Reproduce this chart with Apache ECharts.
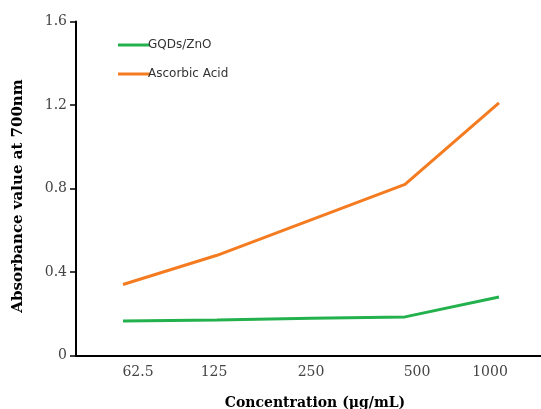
<!DOCTYPE html>
<html>
<head>
<meta charset="utf-8">
<script src="https://cdn.jsdelivr.net/npm/echarts@6/dist/echarts.min.js"></script>
<style>html,body{margin:0;padding:0;background:#fff}#c{width:541px;height:409px}</style>
</head>
<body>
<div id="c"></div>
<script>
const categories = ['62.5', '125', '250', '500', '1000'];
const gqdsZnO = [0.165, 0.17, 0.178, 0.185, 0.28];
const ascorbicAcid = [0.34, 0.48, 0.65, 0.82, 1.21];
const yTicks = [0, 0.4, 0.8, 1.2, 1.6];

// horizontal nudge of each category label (px), as in the source figure
const labelShift = {'62.5': 15, '125': -3, '250': 0, '500': 12, '1000': -9};

const rich = {};
categories.forEach((c, i) => {
  const s = labelShift[c];
  rich['l' + i] = {
    fontFamily: 'DejaVu Serif', fontSize: 14, color: '#444',
    padding: s >= 0 ? [0, 0, 0, 2 * s] : [0, -2 * s, 0, 0]
  };
});

const chart = echarts.init(document.getElementById('c'));
chart.setOption({
  animation: false,
  backgroundColor: '#fff',
  grid: {left: 76, top: 21.5, bottom: 53.5, width: 470, outerBoundsMode: 'none'},
  legend: {
    left: 113, top: 34, orient: 'vertical', itemWidth: 32, itemHeight: 3, itemGap: 17,
    icon: 'rect',
    textStyle: {fontFamily: 'DejaVu Sans', fontSize: 12, color: '#333', padding: [0, 0, 0, -7]},
    data: [
      {name: 'GQDs/ZnO', itemStyle: {color: '#22b14c'}},
      {name: 'Ascorbic Acid', itemStyle: {color: '#f47b20'}}
    ]
  },
  xAxis: {
    type: 'category', data: categories, boundaryGap: true,
    axisLine: {lineStyle: {color: '#000', width: 2}},
    axisTick: {show: false},
    axisLabel: {
      margin: 10,
      formatter: (v, i) => '{l' + i + '|' + v + '}',
      rich: rich
    },
    name: 'Concentration (μg/mL)', nameLocation: 'middle', nameGap: 41,
    nameTextStyle: {fontFamily: 'DejaVu Serif', fontWeight: 'bold', fontSize: 14, color: '#000', padding: [0, 0, 0, 8]}
  },
  yAxis: {
    type: 'value', min: 0, max: 1.6, interval: 0.4,
    splitLine: {show: false},
    axisLine: {show: true, lineStyle: {color: '#000', width: 2}},
    axisTick: {show: true, length: 6, lineStyle: {color: '#000', width: 1.5}},
    axisLabel: {
      fontFamily: 'DejaVu Serif', fontSize: 14, color: '#444', margin: 9,
      formatter: v => (yTicks.indexOf(v) >= 0 ? (v === 0 ? '0' : v.toFixed(1)) : '')
    },
    name: 'Absorbance value at 700nm', nameLocation: 'middle', nameGap: 50, nameRotate: 90,
    nameTextStyle: {fontFamily: 'DejaVu Serif', fontWeight: 'bold', fontSize: 15, color: '#000', padding: [0, 0, 0, -15]}
  },
  series: [
    {name: 'GQDs/ZnO', type: 'line', data: gqdsZnO, symbol: 'none',
     lineStyle: {color: '#22b14c', width: 3}, itemStyle: {color: '#22b14c'}},
    {name: 'Ascorbic Acid', type: 'line', data: ascorbicAcid, symbol: 'none',
     lineStyle: {color: '#f47b20', width: 3}, itemStyle: {color: '#f47b20'}}
  ]
});
</script>
</body>
</html>
